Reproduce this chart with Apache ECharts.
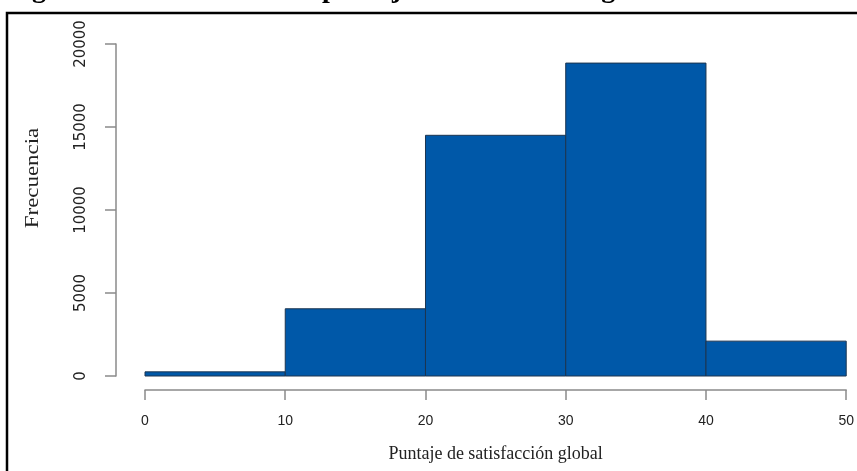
<!DOCTYPE html>
<html>
<head>
<meta charset="utf-8">
<script src="https://cdn.jsdelivr.net/npm/echarts@6/dist/echarts.min.js"></script>
<style>html,body{margin:0;padding:0;background:#fff}#c{width:857px;height:471px}</style>
</head>
<body>
<div id="c"></div>
<script>
var binStarts = [0, 10, 20, 30, 40];
var binEnds = [10, 20, 30, 40, 50];
var frequencies = [250, 4050, 14500, 18850, 2100];
var xTicks = [0, 10, 20, 30, 40, 50];
var yTicks = [0, 5000, 10000, 15000, 20000];
var figureTitle = 'Figura 1. Distribución del puntaje de satisfacción global de los servicios';
var xTitle = 'Puntaje de satisfacción global';
var yTitle = 'Frecuencia';

var data = binStarts.map(function (s, i) { return [s, binEnds[i], frequencies[i]]; });

var chart = echarts.init(document.getElementById('c'));
chart.setOption({
  animation: false,
  backgroundColor: '#fff',
  grid: { left: 145, right: 7, top: 44, bottom: 95, containLabel: false },
  graphic: [
    { type: 'rect', z: 0, silent: true,
      shape: { x: 7, y: 13, width: 900, height: 500 },
      style: { fill: 'none', stroke: '#000', lineWidth: 2.5 } },
    { type: 'text', z: 1, silent: true, x: 7, y: -24,
      style: { text: figureTitle, font: 'bold 28px "Liberation Serif"', fill: '#000' } },
    { type: 'text', z: 1, silent: true, x: 33, y: 178, rotation: Math.PI / 2, scaleX: 1.27,
      style: { text: yTitle, font: '18px "Liberation Serif"', fill: '#222',
               align: 'center', verticalAlign: 'middle' } }
  ],
  xAxis: {
    type: 'value', min: xTicks[0], max: xTicks[xTicks.length - 1], interval: 10,
    offset: 14,
    name: xTitle, nameLocation: 'middle', nameGap: 55,
    nameTextStyle: { fontFamily: 'Liberation Serif', fontSize: 18, color: '#222' },
    axisLine: { show: true, onZero: false, lineStyle: { color: '#8a8a8a', width: 1.5 } },
    axisTick: { show: true, length: 10, lineStyle: { color: '#8a8a8a', width: 1.5 } },
    axisLabel: { margin: 24, fontFamily: 'Liberation Sans', fontSize: 14, color: '#222' },
    splitLine: { show: false }
  },
  yAxis: {
    type: 'value', min: yTicks[0], max: yTicks[yTicks.length - 1], interval: 5000,
    offset: 29,
    axisLine: { show: true, onZero: false, lineStyle: { color: '#8a8a8a', width: 1.5 } },
    axisTick: { show: true, length: 11, lineStyle: { color: '#8a8a8a', width: 1.5 } },
    axisLabel: { rotate: 90, margin: 27, fontFamily: 'DejaVu Sans', fontSize: 15, color: '#222',
                 formatter: function (v) { return String(v); } },
    splitLine: { show: false }
  },
  series: [{
    type: 'custom',
    data: data,
    encode: { x: [0, 1], y: 2 },
    renderItem: function (params, api) {
      var p0 = api.coord([api.value(0), api.value(2)]);
      var p1 = api.coord([api.value(1), 0]);
      return {
        type: 'rect',
        shape: { x: p0[0], y: p0[1], width: p1[0] - p0[0], height: p1[1] - p0[1] },
        style: { fill: '#0058a8', stroke: '#1c3550', lineWidth: 1 }
      };
    }
  }]
});
</script>
</body>
</html>
